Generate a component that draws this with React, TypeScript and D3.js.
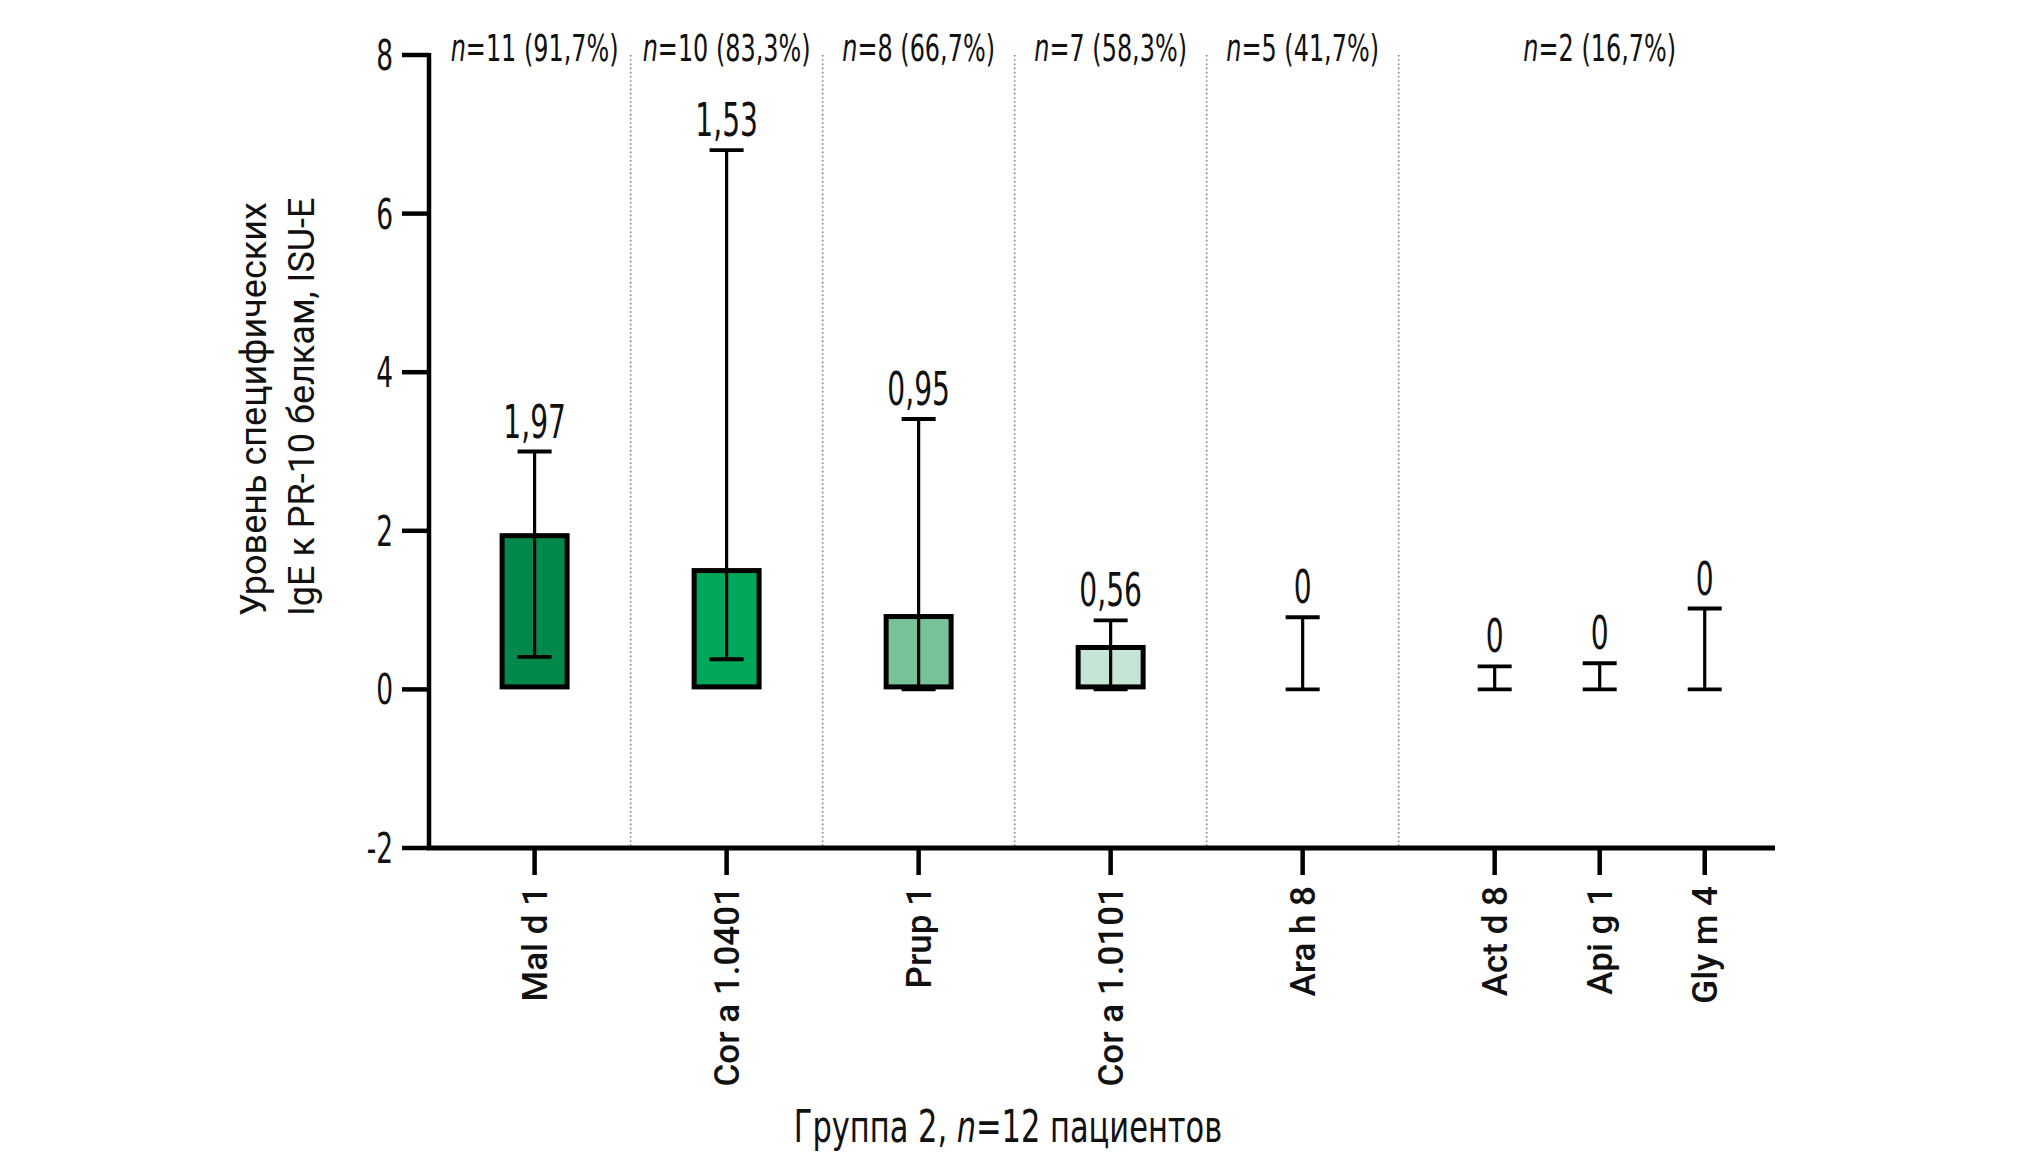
import React from "react";
import * as d3 from "d3";

// Groups (top labels): count and share of patients
const groupN = [11, 10, 8, 7, 5, 2];
const groupPct = ["91,7%", "83,3%", "66,7%", "58,3%", "41,7%", "16,7%"];

// Allergen components
const categories = ["Mal d 1", "Cor a 1.0401", "Prup 1", "Cor a 1.0101", "Ara h 8", "Act d 8", "Api g 1", "Gly m 4"];
const categoryGroup = [0, 1, 2, 3, 4, 5, 5, 5];
const medians = [1.97, 1.53, 0.95, 0.56, 0, 0, 0, 0];
const whiskerLow = [0.41, 0.38, 0, 0, 0, 0, 0, 0];
const whiskerHigh = [3.0, 6.8, 3.41, 0.87, 0.91, 0.29, 0.33, 1.02];
const barColors = ["#00894a", "#00a65a", "#78c298", "#c6e5d5", "#ffffff", "#ffffff", "#ffffff", "#ffffff"];

const yTicks = [-2, 0, 2, 4, 6, 8];

const yTitle = ["Уровень специфических", "IgE к PR-10 белкам, ISU-E"];

const WIDTH = 2020;
const HEIGHT = 1169;
const SUB_STEP = 0.547; // spacing of items inside one group
const CONDENSED = "'Liberation Sans Narrow', 'DejaVu Sans Condensed', sans-serif";
const REGULAR = "Roboto, 'Liberation Sans', sans-serif";

const fmt = (v: number) => (v === 0 ? "0" : v.toFixed(2).replace(".", ","));

function Cond({ x, y, size, sx = 0.7, anchor = "middle", children }: any) {
  return (
    <text
      transform={`translate(${x},${y}) scale(${sx},1)`}
      textAnchor={anchor}
      fontSize={size}
      fontFamily={CONDENSED}
      fill="#111"
    >
      {children}
    </text>
  );
}

export default function App() {
  // slot of every category: group index, plus sub step inside the last group
  const slots = categories.map((_, i) => {
    const g = categoryGroup[i];
    const first = categoryGroup.indexOf(g);
    return g + (i - first) * SUB_STEP;
  });

  const x = d3.scaleLinear().domain([-0.55, 6.46]).range([429, 1775]);
  const y = d3.scaleLinear().domain([-2, 8]).range([848, 55]);

  const groups = groupN.map((n, g) => {
    const s = slots.filter((_, i) => categoryGroup[i] === g);
    return { n, pct: groupPct[g], center: d3.mean(s) as number, first: s[0], last: s[s.length - 1] };
  });
  const separators = groups.slice(0, -1).map((g, i) => (g.last + groups[i + 1].first) / 2);

  const barW = 70;
  const bs = 5; // bar outline, drawn inside the bar
  const capW = 34;
  const x0 = x.range()[0];
  const x1 = x.range()[1];

  return (
    <svg
      width={WIDTH}
      height={HEIGHT}
      style={{ position: "absolute", left: 0, top: 0, background: "#fff" }}
    >
      {/* dotted group separators */}
      {separators.map((s, i) => (
        <line
          key={"sep" + i}
          x1={x(s)}
          x2={x(s)}
          y1={y(8)}
          y2={y(-2)}
          stroke="#808080"
          strokeWidth={1.6}
          strokeDasharray="1.6,2.6"
        />
      ))}

      {/* top group labels */}
      {groups.map((g, i) => (
        <Cond key={"gl" + i} x={x(g.center)} y={61} size={38}>
          <tspan fontStyle="italic">n</tspan>
          {`=${g.n} (${g.pct})`}
        </Cond>
      ))}

      {/* bars */}
      {categories.map((c, i) =>
        medians[i] > 0 ? (
          <rect
            key={"bar" + c}
            x={x(slots[i]) - barW / 2 + bs / 2}
            y={y(medians[i]) + bs / 2}
            width={barW - bs}
            height={y(0) - y(medians[i]) - bs}
            fill={barColors[i]}
            stroke="#000"
            strokeWidth={bs}
          />
        ) : null
      )}

      {/* error bars */}
      {categories.map((c, i) => {
        const cx = x(slots[i]);
        return (
          <g key={"err" + c} stroke="#000" strokeWidth={3.2}>
            <line x1={cx} x2={cx} y1={y(whiskerLow[i])} y2={y(whiskerHigh[i])} />
            <line x1={cx - capW / 2} x2={cx + capW / 2} y1={y(whiskerHigh[i])} y2={y(whiskerHigh[i])} strokeWidth={3.8} />
            <line x1={cx - capW / 2} x2={cx + capW / 2} y1={y(whiskerLow[i])} y2={y(whiskerLow[i])} strokeWidth={3.8} />
          </g>
        );
      })}

      {/* median labels */}
      {categories.map((c, i) => (
        <Cond key={"ml" + c} x={x(slots[i])} y={y(whiskerHigh[i]) - 14} size={46} sx={0.68}>
          {fmt(medians[i])}
        </Cond>
      ))}

      {/* y axis */}
      <line x1={x0} x2={x0} y1={y(8) - 2} y2={y(-2)} stroke="#000" strokeWidth={4.5} />
      {yTicks.map((t) => (
        <g key={"yt" + t}>
          <line x1={x0 - 27} x2={x0} y1={y(t)} y2={y(t)} stroke="#000" strokeWidth={4.5} />
          <Cond x={x0 - 36} y={y(t) + 15} size={42} anchor="end">
            {t}
          </Cond>
        </g>
      ))}

      {/* x axis */}
      <line x1={x0 - 2} x2={x1} y1={y(-2)} y2={y(-2)} stroke="#000" strokeWidth={5} />
      {categories.map((c, i) => (
        <g key={"xt" + c}>
          <line x1={x(slots[i])} x2={x(slots[i])} y1={y(-2)} y2={y(-2) + 27} stroke="#000" strokeWidth={4.5} />
          <text
            transform={`translate(${x(slots[i])},886) rotate(-90)`}
            textAnchor="end"
            dy="0.36em"
            fontSize={35}
            fontWeight={500}
            fontFamily={REGULAR}
            fill="#111"
          >
            {c}
          </text>
        </g>
      ))}

      {/* axis titles */}
      <Cond x={1008} y={1142} size={44} sx={0.77}>
        {"Группа 2, "}
        <tspan fontStyle="italic">n</tspan>
        {"=12 пациентов"}
      </Cond>
      {yTitle.map((line, i) => (
        <text
          key={"yl" + i}
          transform={`translate(${266 + i * 48},616) rotate(-90)`}
          textAnchor="start"
          fontSize={36}
          fontFamily={REGULAR}
          fill="#111"
        >
          {line}
        </text>
      ))}
    </svg>
  );
}
